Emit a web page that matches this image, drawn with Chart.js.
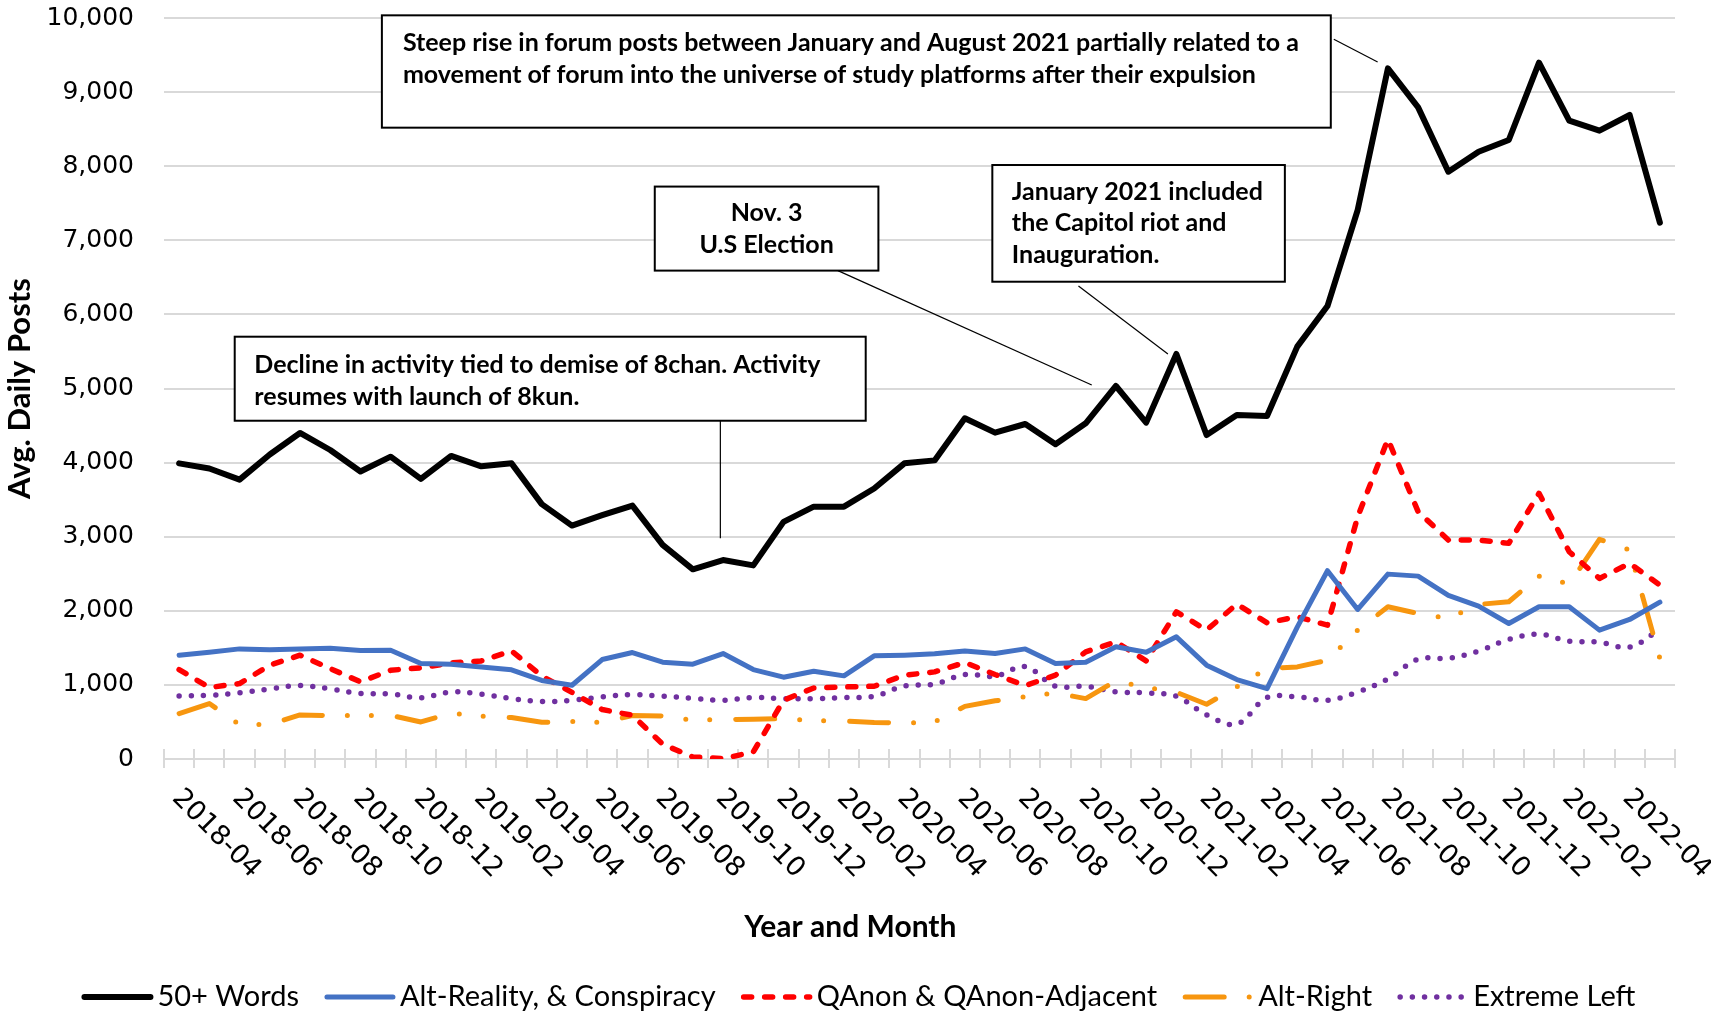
<!DOCTYPE html>
<html>
<head>
<meta charset="utf-8">
<script src="https://cdn.jsdelivr.net/npm/chart.js@4.4.1/dist/chart.umd.min.js"></script>
<style>
  html, body { margin: 0; padding: 0; background: #fff; }
  canvas { display: block; }
</style>
</head>
<body>
<canvas id="postsChart" width="1711" height="1020"></canvas>
<script>
// =============================================
// DATA
// =============================================

const months = [
    '2018-04','2018-05','2018-06','2018-07','2018-08','2018-09','2018-10','2018-11','2018-12',
    '2019-01','2019-02','2019-03','2019-04','2019-05','2019-06','2019-07','2019-08','2019-09',
    '2019-10','2019-11','2019-12','2020-01','2020-02','2020-03','2020-04','2020-05','2020-06',
    '2020-07','2020-08','2020-09','2020-10','2020-11','2020-12','2021-01','2021-02','2021-03',
    '2021-04','2021-05','2021-06','2021-07','2021-08','2021-09','2021-10','2021-11','2021-12',
    '2022-01','2022-02','2022-03','2022-04','2022-05'
];

// only every other month gets a label on the axis
const shownMonthLabels = [
    '2018-04','2018-06','2018-08','2018-10','2018-12','2019-02','2019-04','2019-06','2019-08',
    '2019-10','2019-12','2020-02','2020-04','2020-06','2020-08','2020-10','2020-12','2021-02',
    '2021-04','2021-06','2021-08','2021-10','2021-12','2022-02','2022-04'
];

const yTickValues = [0, 1000, 2000, 3000, 4000, 5000, 6000, 7000, 8000, 9000, 10000];

const words50 = [
    3990, 3920, 3770, 4110, 4400, 4170, 3880, 4080, 3780, 4090, 3950, 3990, 3440,
    3150, 3290, 3420, 2890, 2560, 2685, 2613, 3200, 3405, 3405, 3650, 3990, 4030,
    4598, 4404, 4521, 4247, 4530, 5034, 4539, 5466, 4372, 4642, 4629, 5565, 6113,
    7409, 9321, 8794, 7926, 8196, 8354, 9397, 8614, 8479, 8691, 7238
];

const altReality = [
    1401, 1441, 1486, 1473, 1486, 1495, 1464, 1468, 1288, 1279, 1243, 1203, 1060,
    995, 1342, 1437, 1306, 1279, 1423, 1207, 1104, 1185, 1122, 1392, 1401, 1419,
    1459, 1423, 1486, 1288, 1306, 1514, 1441, 1649, 1266, 1072, 950, 1780, 2541,
    2018, 2495, 2468, 2207, 2063, 1829, 2054, 2054, 1739, 1883, 2117
];

const qanon = [
    1207, 965, 1018, 1266, 1401, 1221, 1041, 1198, 1230, 1297, 1324, 1459, 1120,
    900, 667, 590, 200, 27, 5, 95, 793, 959, 973, 982, 1130, 1176,
    1302, 1140, 991, 1131, 1446, 1581, 1324, 1986, 1739, 2090, 1838, 1919, 1806,
    3270, 4315, 3338, 2955, 2955, 2910, 3586, 2797, 2437, 2640, 2347
];

const altRight = [
    613, 748, 464, 464, 595, 586, 586, 590, 500, 620, 577, 559, 495,
    505, 495, 586, 581, 523, 532, 536, 545, 518, 514, 491, 486, 500,
    710, 785, 840, 892, 815, 1054, 964, 901, 739, 973, 1221, 1243, 1333,
    1739, 2054, 1964, 1896, 2086, 2122, 2468, 2360, 2964, 2820, 1356
];

const extremeLeft = [
    851, 860, 892, 946, 991, 946, 883, 878, 826, 905, 874, 815, 775,
    793, 838, 869, 847, 820, 793, 829, 815, 815, 829, 847, 985, 1009,
    1140, 1117, 1248, 982, 982, 905, 892, 847, 595, 470, 829, 838, 793,
    905, 1081, 1347, 1360, 1455, 1613, 1685, 1590, 1577, 1509, 1750
];

// callout boxes, placed in data space (x = category index, y = posts)
const callouts = [
    {
        x0: 6.71, x1: 38.11, yTop: 10036, yBottom: 8520, align: 'left', padX: 21, firstLine: 28, lineGap: 31.7,
        lines: ['Steep rise in forum posts between January and August 2021 partially related to a',
                'movement of forum into the universe of study platforms after their expulsion'],
        leader: [[38.21, 9713], [39.66, 9406]]
    },
    {
        x0: 15.74, x1: 23.14, yTop: 7725, yBottom: 6591, align: 'center', padX: 0, firstLine: 26.4, lineGap: 31.5,
        lines: ['Nov. 3', 'U.S Election'],
        leader: [[21.80, 6591], [30.20, 5047]]
    },
    {
        x0: 26.91, x1: 36.59, yTop: 8016, yBottom: 6441, align: 'left', padX: 19.5, firstLine: 26.7, lineGap: 31.6,
        lines: ['January 2021 included', 'the Capitol riot and', 'Inauguration.'],
        leader: [[29.76, 6383], [32.72, 5466]]
    },
    {
        x0: 1.84, x1: 22.72, yTop: 5699, yBottom: 4565, align: 'left', padX: 19.6, firstLine: 28.3, lineGap: 31.7,
        lines: ['Decline in activity tied to demise of 8chan. Activity',
                'resumes with launch of 8kun.'],
        leader: [[17.91, 4565], [17.91, 2978]]
    }
];

// =============================================
// PLUGINS
// =============================================

// Excel-style cross tick marks, diagonal month labels and the axis title
const monthAxisPlugin = {
    id: 'monthAxis',
    beforeDatasetsDraw(chart) {
        const { ctx, scales: { x } } = chart;
        ctx.save();
        ctx.strokeStyle = '#d9d9d9';
        ctx.lineWidth = 2;
        for (let i = 0; i <= months.length; i++) {
            const bx = Math.round(x.getPixelForValue(i - 0.5));
            ctx.beginPath();
            ctx.moveTo(bx, x.top - 10);
            ctx.lineTo(bx, x.top + 9);
            ctx.stroke();
        }
        ctx.restore();
    },
    afterDraw(chart) {
        const { ctx, scales: { x } } = chart;
        ctx.save();
        ctx.font = '27px "DejaVu Sans"';
        ctx.fillStyle = '#000';
        ctx.textAlign = 'left';
        ctx.textBaseline = 'middle';
        months.forEach((m, i) => {
            if (!shownMonthLabels.includes(m)) return;
            ctx.save();
            ctx.translate(x.getPixelForValue(i) - 3, x.top + 35);
            ctx.rotate(Math.PI / 4);
            ctx.fillText(m, 0, 0);
            ctx.restore();
        });

        // axis title sits a bit left of the plot centre, like the original
        ctx.font = 'bold 30px Lato';
        ctx.textAlign = 'center';
        ctx.fillText('Year and Month', chart.width * 0.497, x.top + 168);
        ctx.restore();
    }
};

// legend drawn by hand so the line samples keep their dash patterns
const lineLegendPlugin = {
    id: 'lineLegend',
    afterDraw(chart) {
        const { ctx } = chart;
        const datasets = chart.data.datasets;
        const lineLen = 66, textGap = 7, itemGap = 28;
        const centerX = chart.width * 0.5026;
        const y = chart.height - 23;

        ctx.save();
        ctx.font = '29px Lato';
        const widths = datasets.map(d => ctx.measureText(d.label).width);
        const total = widths.reduce((a, b) => a + b, 0)
            + datasets.length * (lineLen + textGap) + (datasets.length - 1) * itemGap;
        let cx = centerX - total / 2;

        datasets.forEach((d, i) => {
            ctx.strokeStyle = d.borderColor;
            ctx.lineWidth = d.borderWidth;
            ctx.lineCap = 'round';
            ctx.setLineDash(d.borderDash);
            ctx.beginPath();
            ctx.moveTo(cx, y);
            ctx.lineTo(cx + lineLen, y);
            ctx.stroke();
            ctx.setLineDash([]);

            ctx.fillStyle = '#000';
            ctx.textAlign = 'left';
            ctx.textBaseline = 'middle';
            ctx.fillText(d.label, cx + lineLen + textGap, y);
            cx += lineLen + textGap + widths[i] + itemGap;
        });
        ctx.restore();
    }
};

const calloutPlugin = {
    id: 'callouts',
    afterDraw(chart) {
        const { ctx, scales: { x, y } } = chart;
        ctx.save();
        callouts.forEach(c => {
            const left = x.getPixelForValue(c.x0);
            const right = x.getPixelForValue(c.x1);
            const top = y.getPixelForValue(c.yTop);
            const bottom = y.getPixelForValue(c.yBottom);

            // leader line
            ctx.strokeStyle = '#000';
            ctx.lineWidth = 1.2;
            ctx.beginPath();
            ctx.moveTo(x.getPixelForValue(c.leader[0][0]), y.getPixelForValue(c.leader[0][1]));
            ctx.lineTo(x.getPixelForValue(c.leader[1][0]), y.getPixelForValue(c.leader[1][1]));
            ctx.stroke();

            // box
            ctx.fillStyle = '#fff';
            ctx.fillRect(left, top, right - left, bottom - top);
            ctx.lineWidth = 2;
            ctx.strokeRect(left, top, right - left, bottom - top);

            // text
            ctx.fillStyle = '#000';
            ctx.font = 'bold 25px Lato';
            ctx.textBaseline = 'middle';
            ctx.textAlign = c.align;
            const tx = c.align === 'center' ? (left + right) / 2 : left + c.padX;
            c.lines.forEach((line, k) => {
                ctx.fillText(line, tx, top + c.firstLine + k * c.lineGap);
            });
        });
        ctx.restore();
    }
};

// =============================================
// CHART
// =============================================

Chart.defaults.font.family = 'Lato';
Chart.defaults.color = '#000';

function lineSeries(label, data, color, width, dash, tension = 0) {
    return {
        label: label,
        data: data,
        borderColor: color,
        backgroundColor: color,
        borderWidth: width,
        borderDash: dash,
        borderCapStyle: 'round',
        borderJoinStyle: 'round',
        pointRadius: 0,
        pointHoverRadius: 0,
        fill: false,
        tension: tension
    };
}

const ctx = document.getElementById('postsChart').getContext('2d');

const chart = new Chart(ctx, {
    type: 'line',
    data: {
        labels: months,
        datasets: [
            lineSeries('50+ Words', words50, '#000000', 6, []),
            lineSeries('Alt-Reality, & Conspiracy', altReality, '#4472C4', 5, []),
            lineSeries('QAnon & QAnon-Adjacent', qanon, '#FF0000', 5.5, [8, 13]),
            lineSeries('Alt-Right', altRight, '#F7960F', 5, [39, 25, 0, 24, 0, 26]),
            lineSeries('Extreme Left', extremeLeft, '#7030A0', 5.5, [0, 12.2], 0.35)
        ]
    },
    options: {
        responsive: false,
        animation: false,
        devicePixelRatio: 1,
        layout: {
            padding: { top: 18, right: 36, bottom: 0, left: 0 }
        },
        plugins: {
            legend: { display: false },
            tooltip: { enabled: false }
        },
        scales: {
            x: {
                offset: true,
                grid: { display: false, offset: true },
                border: { color: '#d9d9d9', width: 2 },
                ticks: { display: false },
                afterFit: (s) => { s.height = 261; }
            },
            y: {
                min: 0,
                max: 10000,
                afterBuildTicks: (s) => { s.ticks = yTickValues.map(v => ({ value: v })); },
                grid: {
                    color: '#d9d9d9',
                    lineWidth: 2,
                    drawTicks: true,
                    tickLength: 27,
                    tickColor: 'rgba(0,0,0,0)'
                },
                border: { display: false },
                ticks: {
                    padding: 3,
                    color: '#000',
                    font: { family: 'DejaVu Sans', size: 25 },
                    callback: (value) => value.toLocaleString('en-US')
                },
                title: {
                    display: true,
                    text: 'Avg. Daily Posts',
                    color: '#000',
                    font: { family: 'Lato', size: 31, weight: 'bold' },
                    padding: { top: 1, bottom: 0 }
                },
                afterFit: (s) => { s.width = 164; }
            }
        }
    },
    plugins: [monthAxisPlugin, lineLegendPlugin, calloutPlugin]
});
</script>
</body>
</html>
